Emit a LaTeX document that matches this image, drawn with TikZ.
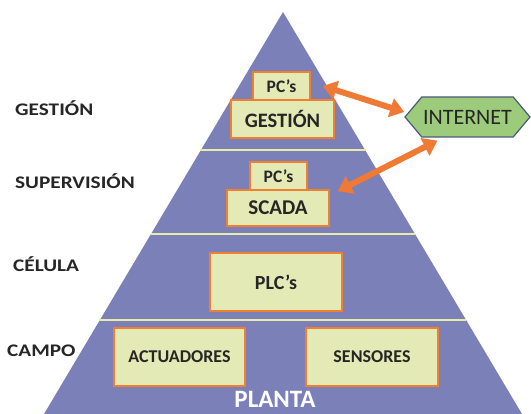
\documentclass[tikz,border=0pt]{standalone}
\usepackage{fontspec}
\setmainfont{Carlito}
\newfontfamily\levelfont{Carlito}[FakeStretch=1.2]
\usetikzlibrary{arrows.meta,shapes.symbols}
\definecolor{pyrblue}{HTML}{7B80B8}
\definecolor{boxfill}{HTML}{E3EAB5}
\definecolor{boxline}{HTML}{F08030}
\definecolor{netfill}{HTML}{9CCB7B}
\definecolor{netline}{HTML}{4A5A7A}
\definecolor{arrorange}{HTML}{EE7A35}
\definecolor{sepline}{HTML}{E6EBA6}
\definecolor{txt}{HTML}{262626}
\begin{document}
\begin{tikzpicture}[x=1pt,y=-1pt,
  level/.style={anchor=base west,text=txt,font=\levelfont\fontsize{17.7}{18}\selectfont\bfseries,inner sep=0pt},
  device/.style={draw=boxline,line width=1.5pt,fill=boxfill,text=txt,font=\bfseries,inner sep=0pt},
  link/.style={arrorange,line width=6pt,{Triangle[width=19pt,length=14pt]}-{Triangle[width=19pt,length=14pt]}}]
\useasboundingbox (0,0) rectangle (531,414);
\fill[pyrblue] (283,12)--(44,414)--(522,414)--cycle;
\foreach \y/\xa/\xb in {150/200/366,234/151/415,320/99/466}{
	\draw[sepline,line width=1.2pt] (\xa,\y)--(\xb,\y);}
% niveles
\node[level] (lgest) at (15,116) {GESTIÓN};
\node[level] (lsup) at (15,189) {SUPERVISIÓN};
\node[level] (lcel) at (13,272) {CÉLULA};
\node[level] (lcam) at (7,357) {CAMPO};
% equipos
\node[device,minimum width=57pt,minimum height=28pt,font=\fontsize{17.5}{17.5}\selectfont\bfseries] (pcgest) at (281.5,86) {PC’s};
\node[device,minimum width=103pt,minimum height=38pt,font=\fontsize{20.5}{20.5}\selectfont\bfseries] (gest) at (282.5,119) {GESTIÓN};
\node[device,minimum width=57pt,minimum height=28pt,font=\fontsize{17.5}{17.5}\selectfont\bfseries] (pcsup) at (278.5,176) {PC’s};
\node[device,minimum width=102pt,minimum height=36pt,font=\fontsize{21}{21}\selectfont\bfseries] (scada) at (278,208) {SCADA};
\node[device,minimum width=132pt,minimum height=58pt,font=\fontsize{20}{20}\selectfont\bfseries] (plc) at (276,282) {PLC’s};
\node[device,minimum width=131pt,minimum height=58pt,font=\fontsize{18}{18}\selectfont\bfseries] (act) at (179.5,357) {ACTUADORES};
\node[device,minimum width=132pt,minimum height=58pt,font=\fontsize{18}{18}\selectfont\bfseries] (sens) at (372,357) {\raisebox{-4pt}{SENSORES}};
\node[text=white,font=\fontsize{25}{25}\selectfont\bfseries,anchor=base,inner sep=0pt] (planta) at (275,408) {PLANTA};
% internet
\node[signal,signal to=west and east,signal pointer angle=100,draw=netline,line width=1.2pt,fill=netfill,
  minimum width=125pt,minimum height=40pt,inner sep=0pt,text=txt,font=\fontsize{22}{22}\selectfont] (net) at (467.5,117) {INTERNET};
\draw[link] ([xshift=12pt]pcgest.east)--([yshift=5pt]net.west);
\draw[link] ([xshift=-30pt,yshift=-3pt]net.south)--([xshift=8pt,yshift=-2pt]scada.north east);
\end{tikzpicture}
\end{document}
